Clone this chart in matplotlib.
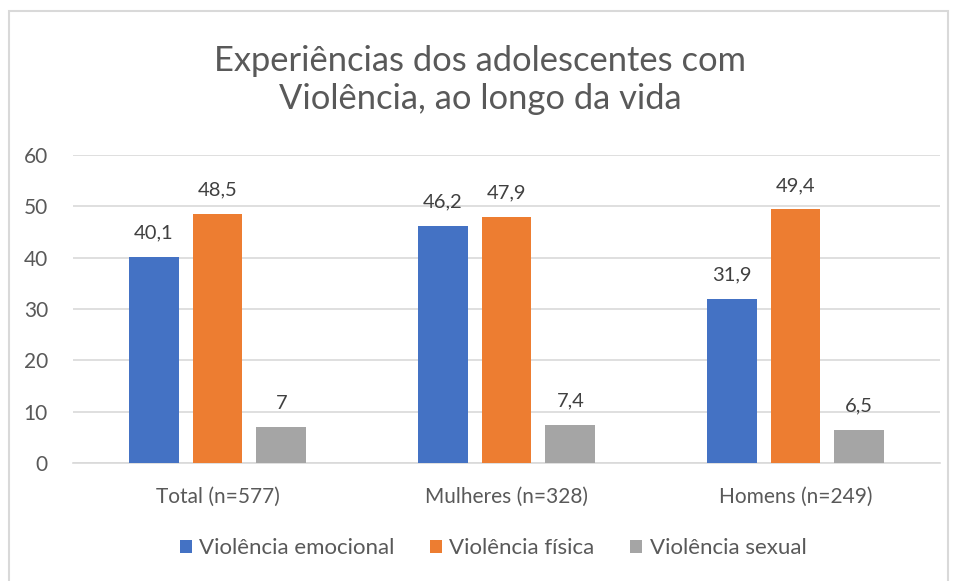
import matplotlib
matplotlib.use("Agg")
import matplotlib.pyplot as plt
import numpy as np
from matplotlib.patches import Rectangle

categories = ["Total (n=577)", "Mulheres (n=328)", "Homens (n=249)"]
series_names = ["Violência emocional", "Violência física", "Violência sexual"]
emocional = [40.1, 46.2, 31.9]
fisica = [48.5, 47.9, 49.4]
sexual = [7, 7.4, 6.5]
labels_emocional = ["40,1", "46,2", "31,9"]
labels_fisica = ["48,5", "47,9", "49,4"]
labels_sexual = ["7", "7,4", "6,5"]
colors = ["#4472C4", "#ED7D31", "#A5A5A5"]

plt.rcParams['font.family'] = ['Lato', 'DejaVu Sans']
W, H = 956, 581
fig = plt.figure(figsize=(W/100, H/100), dpi=100)

# chart border
fig.patches.append(Rectangle((9/W, -0.1), (948-9)/W, (H-11)/H + 0.1, transform=fig.transFigure,
                             fill=False, edgecolor="#D9D9D9", linewidth=1.5))

left, right = 73/W, 940/W
top, bottom = 1 - 155/H, 1 - 463/H
ax = fig.add_axes([left, bottom, right-left, top-bottom])

x = np.arange(len(categories))
bw = 0.173
step = 0.221
data = [emocional, fisica, sexual]
labs = [labels_emocional, labels_fisica, labels_sexual]
for i, (vals, lab, c, name) in enumerate(zip(data, labs, colors, series_names)):
    pos = x + (i - 1) * step
    bars = ax.bar(pos, vals, width=bw, color=c, label=name, zorder=3)
    for p, v, t in zip(pos, vals, lab):
        ax.text(p, v + 3.0, t, ha="center", va="bottom", fontsize=14.5, color="#404040")

ax.set_xlim(-0.5, 2.5)
ax.set_ylim(0, 60)
ax.set_yticks(range(0, 61, 10))
ax.yaxis.grid(True, color="#D9D9D9", linewidth=1.2, zorder=0)
for s in ["top", "right", "left"]:
    ax.spines[s].set_visible(False)
ax.spines["bottom"].set_color("#D9D9D9")
ax.spines["bottom"].set_linewidth(1.2)
ax.tick_params(axis="both", length=0, labelsize=15, colors="#595959")
ax.tick_params(axis="y", pad=18)
ax.tick_params(axis="x", pad=17)
ax.set_xticks(x)
ax.set_xticklabels(categories)

fig.text(0.502, 1 - 80/H, "Experiências dos adolescentes com\nViolência, ao longo da vida",
         ha="center", va="center", fontsize=24.8, color="#595959", linespacing=1.25)

leg = fig.legend(loc="center", bbox_to_anchor=(493/W, 1 - 548/H), ncol=3, frameon=False,
                 fontsize=16, handlelength=0.54, handleheight=0.54, handletextpad=0.32,
                 columnspacing=1.62, labelcolor="#595959")

fig.savefig("out.png", dpi=100)
